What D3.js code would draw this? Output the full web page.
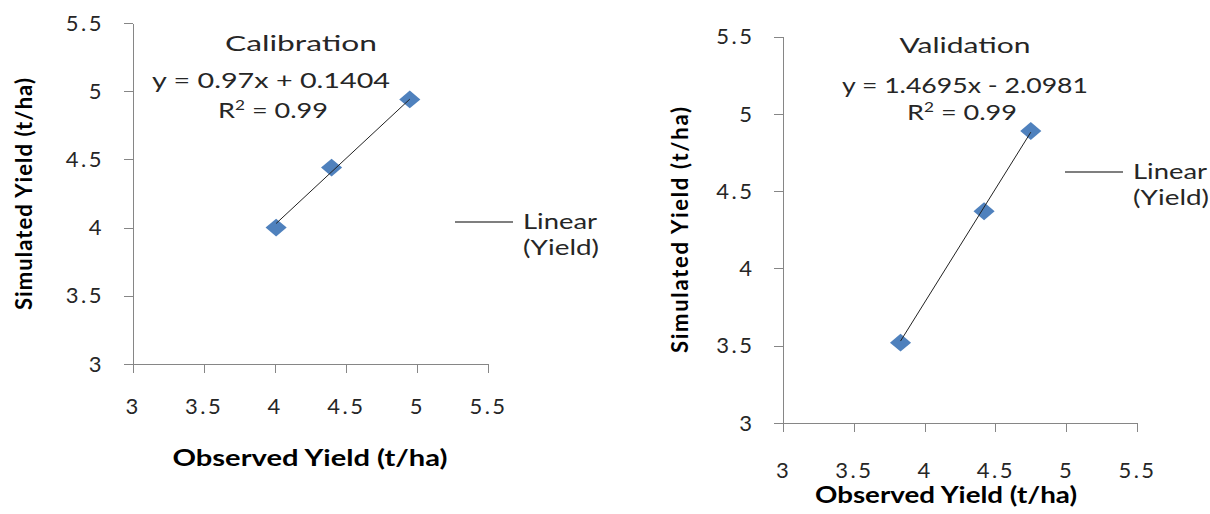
<!DOCTYPE html>
<html>
<head>
<meta charset="utf-8">
<script src="https://cdn.jsdelivr.net/npm/d3@7"></script>
<style>
body { margin: 0; background: #fff; }
svg { display: block; font-family: Lato, "Open Sans", sans-serif; }
.axis path, .axis line { stroke: #868686; stroke-width: 1; shape-rendering: crispEdges; }
.axis text { font-family: Lato, sans-serif; font-size: 22px; fill: #262626; letter-spacing: 2.5px; }
.label { font-size: 22px; fill: #262626; }
.bold { font-weight: bold; fill: #000; }
</style>
</head>
<body>
<svg id="chart" width="1210" height="514"></svg>
<script>
// values
var tickValues = [3, 3.5, 4, 4.5, 5, 5.5];
var calObserved = [4.01, 4.40, 4.95];
var calSimulated = [4.00, 4.44, 4.94];
var valObserved = [3.83, 4.42, 4.75];
var valSimulated = [3.52, 4.37, 4.89];
var calTrend = [0.97, 0.1404];     // slope, intercept
var valTrend = [1.4695, -2.0981];
var panelTitles = ["Calibration", "Validation"];
var equationLabels = ["y = 0.97x + 0.1404", "y = 1.4695x - 2.0981"];
var r2Labels = ["0.99", "0.99"];
var legendLabels = ["Linear", "(Yield)"];
var xTitle = "Observed Yield (t/ha)";
var yTitle = "Simulated Yield (t/ha)";

var svg = d3.select("#chart");

// layout of each panel (pixels)
var panels = [
	{ obs: calObserved, sim: calSimulated, trend: calTrend, i: 0,
	  xr: [132.5, 488], yr: [364, 23], xPad: 25,
	  title: [301, 51, 152], eq: [271, 88, 238], r2: [273, 118, 110],
	  legend: [455, 222], xt: [310, 466, 275], yt: [32, 194, 232] },
	{ obs: valObserved, sim: valSimulated, trend: valTrend, i: 1,
	  xr: [783, 1137], yr: [423, 36.7], xPad: 30,
	  title: [965, 53, 131], eq: [965, 93, 246], r2: [962, 120, 110],
	  legend: [1065, 172], xt: [946, 503, 262], yt: [688, 230, 246] }
];

function fit(sel, w, how) {
	sel.attr("textLength", w).attr("lengthAdjust", how || "spacingAndGlyphs");
}

function drawPanel(p) {
	var x = d3.scaleLinear().domain([3, 5.5]).range(p.xr);
	var y = d3.scaleLinear().domain([3, 5.5]).range(p.yr);

	svg.append("g").attr("class", "axis")
		.attr("transform", "translate(0," + p.yr[0] + ")")
		.call(d3.axisBottom(x).tickValues(tickValues).tickFormat(d3.format("")).tickSize(9).tickSizeOuter(0).tickPadding(p.xPad));
	svg.append("g").attr("class", "axis")
		.attr("transform", "translate(" + p.xr[0] + ",0)")
		.call(d3.axisLeft(y).tickValues(tickValues).tickFormat(d3.format("")).tickSize(9).tickSizeOuter(0).tickPadding(19.5));

	var pts = p.obs.map(function(d, k) { return [d, p.sim[k]]; });
	var diamond = d3.symbol().type(d3.symbolSquare).size(160);
	svg.append("g").selectAll("path")
		.data(pts)
		.enter().append("path")
		.attr("d", diamond)
		.attr("fill", "#4f81bd")
		.attr("transform", function(d) {
			return "translate(" + x(d[0]) + "," + y(d[1]) + ") scale(1.18,1) rotate(45)";
		});

	// trendline over the observed range
	var ext = d3.extent(p.obs);
	var line = d3.line().x(function(d) { return x(d); })
		.y(function(d) { return y(p.trend[0] * d + p.trend[1]); });
	svg.append("path").datum(ext)
		.attr("d", line)
		.attr("fill", "none")
		.attr("stroke", "#222")
		.attr("stroke-width", 1);

	svg.append("text").attr("class", "label")
		.attr("x", p.title[0]).attr("y", p.title[1])
		.attr("text-anchor", "middle")
		.text(panelTitles[p.i]).call(fit, p.title[2]);

	svg.append("text").attr("class", "label")
		.attr("x", p.eq[0]).attr("y", p.eq[1])
		.attr("text-anchor", "middle")
		.text(equationLabels[p.i]).call(fit, p.eq[2]);

	var r2 = svg.append("text").attr("class", "label")
		.attr("x", p.r2[0]).attr("y", p.r2[1])
		.attr("text-anchor", "middle");
	r2.append("tspan").text("R");
	r2.append("tspan").attr("font-size", 14).attr("dy", -8).text("2");
	r2.append("tspan").attr("dy", 8).text(" = " + r2Labels[p.i]);
	r2.call(fit, p.r2[2]);

	// legend
	svg.append("line")
		.attr("x1", p.legend[0]).attr("x2", p.legend[0] + 58)
		.attr("y1", p.legend[1]).attr("y2", p.legend[1])
		.attr("stroke", "#000").attr("stroke-width", 1.2);
	legendLabels.forEach(function(t, k) {
		svg.append("text").attr("class", "label")
			.attr("x", p.legend[0] + 68).attr("y", p.legend[1] + 7 + k * 26)
			.text(t).call(fit, k == 0 ? 74 : 76);
	});

	svg.append("text").attr("class", "label bold")
		.attr("x", p.xt[0]).attr("y", p.xt[1])
		.attr("text-anchor", "middle")
		.text(xTitle).call(fit, p.xt[2]);

	svg.append("text").attr("class", "label bold")
		.attr("transform", "translate(" + p.yt[0] + "," + p.yt[1] + ")rotate(-90)")
		.attr("text-anchor", "middle")
		.text(yTitle).call(fit, p.yt[2], "spacing");
}

panels.forEach(drawPanel);
</script>
</body>
</html>
